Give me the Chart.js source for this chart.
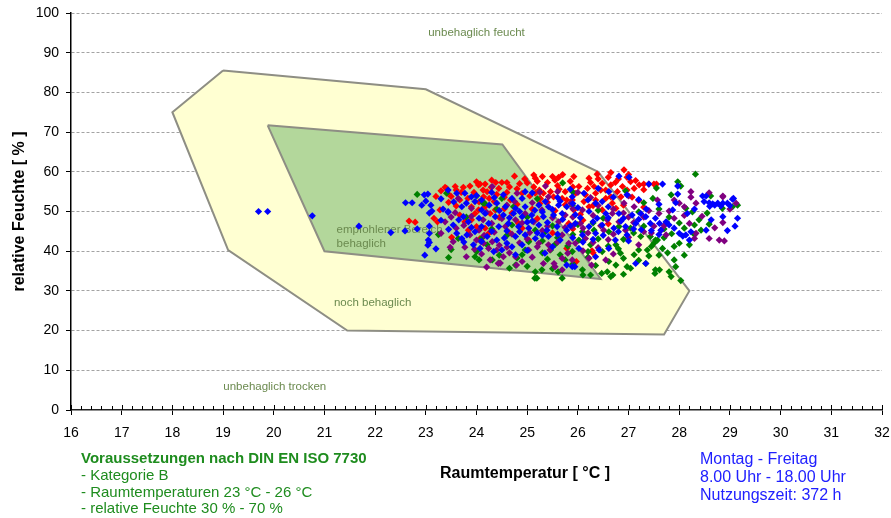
<!DOCTYPE html>
<html lang="de">
<head>
<meta charset="utf-8">
<title>Raumklima Behaglichkeit</title>
<script src="https://cdn.jsdelivr.net/npm/chart.js@4.4.1/dist/chart.umd.min.js"></script>
<style>
    html, body { margin: 0; padding: 0; background: #fff; }
    #rahmen { position: relative; width: 891px; height: 518px; }
</style>
</head>
<body>
<div id="rahmen"><canvas id="Behaglichkeit" width="891" height="518"></canvas></div>
<script>
// Achsen
var tempMin = 16, tempMax = 32, tempSchritt = 1;
var feuchteMin = 0, feuchteMax = 100, feuchteSchritt = 10;

// Behaglichkeitsfelder [Temperatur, Feuchte]
var gelbeZone = [[19.0, 85.5], [23.0, 80.8], [26.4, 60.0], [28.2, 30.0], [27.7, 19.0], [21.45, 20.0], [19.1, 40.3], [18.0, 75.0], [19.0, 85.5]];
var grueneZone = [[19.88, 71.7], [24.51, 66.9], [26.45, 33.0], [21.0, 40.0], [19.88, 71.7]];

var zonenNamen = ["unbehaglich feucht", "empfohlener Bereich", "behaglich", "noch behaglich", "unbehaglich trocken"];

// Messwerte [Raumtemperatur, relative Feuchte]
var rotPunkte = [
    [22.67, 47.6], [22.79, 47.3], [23.16, 48.3], [23.23, 47.4], [23.28, 50.4], [23.38, 56.1], [23.41, 55.8], [23.43, 54.6],
    [23.51, 43.5], [23.58, 56.3], [23.6, 55.4], [23.67, 52.9], [23.67, 49.1], [23.74, 56.1], [23.77, 47.4], [23.83, 53.3],
    [23.84, 45.3], [23.87, 56.4], [23.9, 51.2], [23.97, 49.5], [24.0, 46.2], [24.04, 56.7], [24.04, 50.4], [24.07, 43.2],
    [24.07, 56.9], [24.13, 55.4], [24.14, 53.7], [24.17, 56.9], [24.17, 51.2], [24.17, 45.8], [24.21, 55.0], [24.24, 44.5],
    [24.25, 53.3], [24.27, 49.5], [24.29, 56.1], [24.3, 57.9], [24.37, 50.4], [24.38, 57.3], [24.44, 55.8], [24.5, 57.3],
    [24.6, 57.3], [24.63, 44.9], [24.65, 56.2], [24.67, 52.9], [24.75, 58.9], [24.83, 47.0], [24.9, 54.6], [25.03, 42.8],
    [25.13, 59.2], [25.13, 56.2], [25.16, 58.4], [25.16, 54.6], [25.24, 55.4], [25.26, 53.3], [25.3, 58.8], [25.32, 54.6],
    [25.46, 55.0], [25.5, 58.8], [25.52, 53.7], [25.62, 58.6], [25.63, 55.6], [25.69, 53.3], [25.75, 55.0], [25.78, 52.9],
    [25.82, 47.0], [25.89, 52.9], [25.92, 58.8], [25.92, 50.4], [25.96, 54.6], [25.97, 37.4], [26.02, 56.3], [26.12, 52.5],
    [26.15, 54.2], [26.19, 55.8], [26.22, 58.4], [26.22, 51.2], [26.28, 40.1], [26.3, 39.6], [26.32, 56.3], [26.35, 54.6],
    [26.35, 52.9], [26.38, 59.4], [26.48, 57.1], [26.48, 50.4], [26.55, 55.4], [26.55, 53.3], [26.65, 59.8], [26.65, 56.7],
    [26.65, 53.7], [26.68, 52.1], [26.74, 57.3], [26.78, 55.0], [26.88, 56.3], [26.91, 60.5], [26.97, 58.6], [26.97, 55.4],
    [27.04, 57.5], [27.07, 53.6], [27.11, 55.8], [27.14, 57.8], [27.21, 56.7], [27.3, 56.9], [27.4, 56.9], [27.5, 56.9],
    [27.55, 56.9], [23.5, 53.8], [23.95, 54.8], [24.4, 54.3], [24.55, 53.6], [24.8, 55.7], [25.0, 57.2], [25.4, 57.3],
    [25.85, 57.6], [25.6, 56.5], [25.05, 53.9], [25.4, 52.3], [24.8, 51.8], [24.55, 50.7], [25.1, 50.6], [25.55, 50.2],
    [26.05, 49.3], [26.75, 50.8], [26.9, 51.6], [27.2, 52.8], [26.4, 58.2], [26.6, 58.6], [27.0, 59.3], [25.7, 59.3],
    [24.95, 58.2], [24.0, 57.5], [23.3, 55.2], [23.2, 53.8], [24.45, 48.5], [25.2, 48.2], [23.6, 51.4], [24.9, 45.8],
    [25.5, 44.6], [26.1, 47.8], [26.6, 46.9], [27.3, 51.1], [25.78, 40.7], [23.45, 52.3], [23.7, 54.8], [24.05, 52.4],
    [24.35, 52.5], [24.6, 54.8], [24.85, 57.0], [25.2, 57.6], [25.55, 57.9], [25.9, 56.2], [26.25, 57.3], [26.45, 55.4],
    [26.85, 53.7], [27.3, 55.5], [25.25, 52.0], [25.75, 51.7], [26.3, 51.5], [24.7, 49.6], [23.9, 47.9], [25.9, 45.6],
    [26.8, 58.2]
];

var blauPunkte = [
    [19.7, 50.0], [19.88, 50.0], [20.76, 48.9], [21.68, 46.3], [22.31, 44.7], [22.6, 52.2], [22.73, 52.2], [22.92, 51.6],
    [22.97, 54.2], [23.04, 54.4], [23.0, 52.6], [23.1, 51.6], [23.07, 49.6], [23.12, 50.1], [22.59, 45.1], [22.83, 45.6],
    [23.07, 46.3], [23.07, 44.5], [23.05, 42.8], [23.07, 42.2], [23.04, 41.5], [23.2, 40.6], [22.98, 39.0], [23.34, 50.6],
    [23.44, 49.8], [23.44, 55.4], [23.61, 54.6], [23.77, 54.6], [23.9, 53.7], [23.44, 50.0], [23.71, 51.2], [23.74, 48.7],
    [23.84, 47.4], [23.61, 44.5], [23.71, 43.2], [23.81, 44.1], [23.97, 44.9], [24.1, 46.2], [23.94, 41.6], [24.07, 40.7],
    [23.54, 46.6], [23.97, 52.5], [24.1, 50.4], [24.53, 54.2], [24.7, 53.3], [24.9, 53.3], [24.96, 55.0], [25.36, 52.5],
    [24.4, 52.1], [24.57, 51.2], [24.77, 50.8], [24.96, 51.2], [25.23, 51.6], [25.42, 51.2], [25.62, 51.6], [25.78, 51.2],
    [24.17, 49.5], [24.37, 48.7], [24.53, 49.1], [24.73, 49.5], [24.9, 48.7], [25.09, 49.1], [25.32, 48.7], [25.52, 49.1],
    [25.69, 49.5], [24.24, 47.0], [24.44, 46.2], [24.63, 47.0], [24.83, 46.2], [25.03, 45.8], [25.23, 46.6], [25.39, 45.3],
    [25.59, 46.2], [25.78, 45.3], [24.21, 43.7], [24.4, 42.8], [24.6, 42.0], [24.77, 43.7], [24.96, 44.1], [25.16, 43.2],
    [25.42, 43.7], [25.65, 42.8], [24.5, 40.3], [24.7, 41.1], [24.9, 41.6], [24.34, 39.9], [26.81, 58.9], [27.01, 58.6],
    [27.4, 56.9], [26.12, 54.6], [26.61, 55.0], [26.97, 54.2], [25.89, 53.7], [26.35, 52.1], [26.48, 52.5], [26.22, 50.0],
    [26.55, 49.5], [26.81, 49.5], [26.38, 48.3], [27.07, 49.1], [27.34, 48.7], [27.53, 48.3], [27.24, 49.5], [25.95, 47.0],
    [26.22, 46.2], [26.48, 46.6], [26.71, 45.8], [26.94, 46.2], [27.14, 47.0], [27.43, 47.0], [26.09, 44.1], [26.35, 44.5],
    [26.74, 42.8], [26.97, 44.1], [26.02, 40.7], [26.42, 40.3], [26.61, 40.7], [25.89, 36.1], [27.14, 36.9], [27.34, 36.9],
    [26.35, 38.6], [27.67, 56.9], [27.97, 56.4], [27.97, 54.4], [27.93, 52.2], [27.87, 50.4], [28.16, 49.5], [28.46, 53.9],
    [28.53, 53.9], [28.49, 52.5], [28.59, 52.2], [28.66, 51.9], [28.76, 52.1], [28.86, 52.1], [29.05, 53.1], [28.95, 52.1],
    [29.15, 48.3], [28.86, 48.7], [28.63, 47.9], [28.53, 45.3], [28.2, 42.8], [28.07, 43.8], [27.74, 47.4], [27.8, 46.6],
    [27.9, 45.8], [28.0, 44.5], [28.13, 44.1], [27.64, 45.3], [27.61, 47.0], [28.23, 44.9], [25.78, 36.5], [25.94, 36.1],
    [24.77, 39.1], [28.7, 51.6], [28.82, 51.4], [29.0, 51.5], [28.6, 51.3], [25.1, 47.6], [25.4, 47.2], [24.6, 45.1],
    [25.2, 44.6], [25.9, 43.4], [25.95, 49.2], [26.6, 51.2], [26.2, 52.9], [25.6, 53.5], [25.1, 54.7], [24.3, 54.8],
    [23.8, 52.1], [26.1, 42.3], [25.5, 41.1], [27.0, 42.6], [27.6, 44.2], [27.25, 45.4], [26.85, 47.6], [26.3, 43.0],
    [25.0, 40.2], [25.35, 39.5], [24.1, 52.9], [25.85, 55.6], [26.4, 55.8], [27.2, 53.0], [27.6, 51.8], [28.3, 50.6],
    [28.95, 45.2], [29.1, 46.3], [29.07, 53.3], [23.3, 53.2], [23.55, 52.4], [23.65, 47.9], [23.9, 46.0], [24.05, 48.3],
    [24.25, 51.6], [24.45, 50.2], [24.65, 48.4], [24.85, 50.0], [25.0, 47.3], [25.15, 50.3], [25.3, 49.9], [25.5, 50.5],
    [25.7, 48.0], [25.85, 46.4], [25.6, 44.3], [25.3, 44.0], [24.85, 44.9], [24.55, 43.3], [24.3, 45.0], [24.1, 42.5],
    [23.75, 42.3], [23.45, 45.5], [23.3, 47.8], [26.05, 48.4], [26.3, 47.4], [26.6, 48.4], [26.9, 48.3], [27.2, 48.0],
    [26.5, 44.0], [26.8, 44.9], [27.1, 45.6], [27.45, 45.2], [25.65, 52.6], [25.9, 52.0], [26.0, 51.0], [24.0, 54.0],
    [24.35, 53.5], [26.7, 53.6], [27.35, 50.6]
];

var lilaPunkte = [
    [23.64, 53.3], [23.38, 47.4], [23.58, 49.7], [23.54, 42.4], [23.48, 41.0], [23.77, 41.0], [23.87, 44.1], [24.0, 42.8],
    [23.96, 40.5], [24.13, 47.9], [24.09, 42.4], [24.31, 56.3], [24.8, 54.6], [25.36, 56.4], [25.42, 53.7], [24.14, 42.0],
    [24.24, 40.7], [24.4, 40.3], [24.77, 38.6], [24.9, 37.4], [24.47, 37.0], [24.57, 46.2], [24.77, 47.9], [24.96, 49.5],
    [25.13, 47.4], [25.29, 50.4], [25.62, 47.4], [25.75, 49.1], [25.69, 44.1], [25.42, 41.6], [25.23, 42.0], [25.82, 42.0],
    [25.55, 36.1], [25.69, 35.3], [24.31, 42.4], [25.03, 40.3], [25.86, 52.1], [26.09, 50.4], [26.68, 49.5], [26.91, 52.1],
    [25.89, 46.2], [26.05, 47.0], [26.58, 47.9], [26.81, 47.4], [27.11, 51.2], [26.51, 45.3], [27.3, 44.9], [26.15, 43.2],
    [26.22, 38.2], [25.89, 37.8], [26.55, 37.8], [25.95, 42.0], [26.94, 45.3], [28.23, 55.0], [28.23, 53.6], [28.86, 53.7],
    [29.12, 52.1], [28.33, 52.1], [28.0, 52.1], [27.9, 52.9], [28.1, 51.2], [28.86, 47.2], [28.79, 42.8], [28.89, 42.6],
    [28.59, 43.2], [28.3, 43.2], [28.33, 44.5], [28.2, 47.0], [27.9, 48.3], [27.64, 45.3], [27.74, 44.1], [27.57, 52.9],
    [24.27, 37.8], [24.43, 36.9], [24.53, 38.6], [24.79, 36.5], [25.32, 36.9], [25.53, 36.9], [25.69, 38.2], [26.27, 36.5],
    [28.59, 54.7], [28.86, 53.9], [23.9, 50.8], [24.2, 49.8], [24.5, 48.2], [24.7, 44.3], [25.0, 43.1], [25.3, 45.2],
    [25.5, 48.4], [25.9, 50.7], [26.3, 49.0], [26.7, 50.6], [27.0, 48.6], [27.4, 50.2], [27.6, 49.5], [26.2, 44.6],
    [26.6, 42.9], [27.0, 43.5], [27.5, 46.3], [24.6, 51.6], [25.1, 52.2], [25.6, 55.0], [26.0, 54.8], [26.4, 51.5],
    [24.05, 45.3], [24.85, 42.1], [25.45, 40.3], [26.4, 40.9], [27.2, 41.6], [23.3, 44.5], [23.6, 45.8], [24.35, 44.8],
    [23.5, 48.6], [23.75, 46.5], [23.9, 48.8], [24.15, 44.0], [24.3, 47.0], [24.45, 41.5], [24.65, 39.6], [24.9, 47.1],
    [25.05, 44.7], [25.2, 41.1], [25.4, 46.3], [25.6, 42.3], [25.75, 46.0], [25.9, 48.6], [26.1, 45.8], [26.3, 42.2],
    [26.45, 46.4], [26.7, 44.3], [26.9, 49.6], [27.1, 47.2], [27.3, 48.6], [27.45, 44.6], [27.7, 46.4], [27.8, 50.1],
    [28.1, 49.0], [28.45, 48.8], [28.7, 45.9], [29.0, 50.6], [24.1, 39.3], [24.6, 41.0], [25.1, 38.5], [25.8, 39.5],
    [26.1, 40.1], [26.7, 39.3], [24.75, 52.5], [25.25, 54.9], [26.25, 53.5], [27.0, 53.9], [23.8, 38.6], [24.2, 36.0]
];

var gruenPunkte = [
    [22.83, 54.3], [23.41, 54.6], [24.0, 53.9], [23.64, 43.2], [24.13, 52.1], [23.97, 38.6], [24.05, 37.8], [24.16, 52.1],
    [24.5, 53.3], [24.73, 51.2], [24.21, 41.6], [24.31, 37.8], [24.44, 37.0], [24.77, 36.5], [24.96, 40.3], [25.16, 45.3],
    [25.36, 44.9], [25.46, 40.3], [25.65, 39.1], [25.16, 34.8], [25.29, 35.3], [25.19, 33.2], [25.69, 33.2], [25.75, 37.8],
    [25.03, 42.4], [25.89, 51.6], [26.94, 55.2], [27.3, 52.2], [27.48, 53.3], [26.09, 44.9], [26.32, 45.3], [26.61, 44.9],
    [26.81, 46.2], [27.04, 45.8], [27.24, 43.7], [27.43, 43.7], [27.53, 42.8], [26.02, 42.8], [26.25, 41.6], [26.75, 41.6],
    [26.48, 39.9], [26.84, 39.5], [27.11, 39.1], [26.61, 37.4], [26.75, 36.5], [26.97, 36.1], [27.04, 35.7], [27.34, 36.9],
    [27.53, 35.3], [26.65, 33.6], [25.89, 39.9], [26.09, 35.3], [26.25, 34.0], [26.58, 34.8], [27.5, 42.0], [27.37, 40.3],
    [28.32, 59.4], [27.97, 57.5], [27.84, 54.2], [28.03, 56.4], [28.13, 50.8], [28.26, 49.9], [28.39, 47.9], [28.59, 46.8],
    [28.43, 45.3], [28.1, 45.8], [28.3, 46.6], [29.15, 51.6], [29.05, 51.2], [28.62, 53.9], [27.57, 42.8], [27.67, 40.7],
    [27.77, 39.6], [27.61, 35.3], [27.8, 34.8], [27.84, 33.6], [28.03, 32.6], [27.93, 36.1], [25.15, 33.2], [25.61, 34.8],
    [26.1, 34.0], [26.47, 34.4], [26.69, 34.0], [27.52, 34.4], [25.3, 42.6], [25.6, 43.4], [25.9, 44.2], [26.4, 43.1],
    [26.9, 43.0], [27.1, 44.6], [27.7, 43.4], [27.85, 44.4], [28.0, 42.0], [27.9, 41.2], [28.0, 47.1], [27.8, 48.6],
    [27.6, 50.6], [27.2, 49.9], [26.5, 48.3], [25.5, 46.4], [24.6, 44.0], [24.3, 45.6], [24.9, 39.1], [25.4, 38.0],
    [26.2, 38.5], [27.2, 37.7], [27.4, 38.8], [27.9, 37.8], [28.1, 39.0], [28.2, 41.6], [26.8, 40.6], [26.35, 36.4],
    [25.9, 36.8], [24.65, 35.7], [23.8, 48.6], [24.4, 50.6], [25.2, 53.2], [25.7, 57.2], [24.0, 39.9], [23.5, 40.4],
    [24.1, 43.2], [24.45, 39.0], [24.8, 38.3], [25.0, 36.2], [25.3, 39.6], [25.55, 41.7], [25.8, 41.3], [26.0, 46.7],
    [26.3, 47.1], [26.6, 41.3], [26.9, 38.2], [27.2, 40.3], [27.45, 41.2], [27.6, 39.0], [27.3, 46.3], [27.7, 45.6],
    [26.2, 39.9], [25.5, 35.6], [26.9, 34.2], [27.75, 47.3], [28.3, 44.2], [28.55, 49.6], [28.85, 50.8], [26.4, 50.3],
    [25.0, 48.6], [23.25, 44.2], [23.45, 38.4], [24.7, 46.6], [25.9, 54.9], [27.55, 55.9]
];

var schrift = "'Liberation Sans', Arial, sans-serif";
Chart.defaults.font.family = schrift;
Chart.defaults.color = '#000';

function alsPunkte(liste) {
    return liste.map(function (p) { return { x: p[0], y: p[1] }; });
}

function punktReihe(name, liste, farbe) {
    return {
        label: name,
        data: alsPunkte(liste),
        backgroundColor: farbe,
        borderColor: farbe,
        borderWidth: 0,
        pointStyle: 'rectRot',
        pointRadius: 3.6
    };
}

function zonenReihe(name, liste, fuellung) {
    return {
        type: 'line',
        label: name,
        data: alsPunkte(liste),
        borderColor: '#8e8e84',
        borderWidth: 2,
        backgroundColor: fuellung,
        fill: 'shape',
        pointRadius: 0,
        tension: 0
    };
}

// Beschriftungen, Nebenstriche und Hinweistexte
var beschriftung = {
    id: 'beschriftung',
    afterDatasetDraw: function (chart, args) {
        if (args.index !== 4) return;
        var ctx = chart.ctx, sx = chart.scales.x, sy = chart.scales.y;
        var orte = [[24.0, 95.0, 'center'], [21.24, 45.4, 'left'], [21.24, 41.8, 'left'], [21.95, 27.0, 'center'], [20.02, 5.9, 'center']];
        ctx.save();
        ctx.font = '11.5px ' + schrift;
        ctx.fillStyle = '#6b8a4f';
        ctx.textBaseline = 'middle';
        zonenNamen.forEach(function (t, i) {
            ctx.textAlign = orte[i][2];
            ctx.fillText(t, sx.getPixelForValue(orte[i][0]), sy.getPixelForValue(orte[i][1]));
        });
        ctx.restore();
    },
    afterDraw: function (chart) {
        var ctx = chart.ctx, sx = chart.scales.x, sy = chart.scales.y;
        ctx.save();
        ctx.strokeStyle = '#000';
        ctx.lineWidth = 1;
        for (var i = 0; i <= (tempMax - tempMin) * 5; i++) {
            var px = Math.round(sx.getPixelForValue(tempMin + i * 0.2)) + 0.5;
            var len = (i % 5 === 0) ? 5 : 4;
            ctx.beginPath();
            ctx.moveTo(px, sy.bottom);
            ctx.lineTo(px, sy.bottom - len);
            ctx.stroke();
        }

        ctx.textBaseline = 'alphabetic';
        ctx.textAlign = 'center';
        ctx.fillStyle = '#000';
        ctx.font = 'bold 16px ' + schrift;
        ctx.fillText('Raumtemperatur [ °C ]', 525, 478);

        ctx.textAlign = 'left';
        ctx.fillStyle = '#1e8c1e';
        ctx.font = 'bold 15px ' + schrift;
        ctx.fillText('Voraussetzungen nach DIN EN ISO 7730', 81, 463);
        ctx.font = '15px ' + schrift;
        ctx.fillText('- Kategorie B', 81, 479.5);
        ctx.fillText('- Raumtemperaturen 23 °C - 26 °C', 81, 496.5);
        ctx.fillText('- relative Feuchte 30 % - 70 %', 81, 513);

        ctx.fillStyle = '#2020ff';
        ctx.font = '16px ' + schrift;
        ctx.fillText('Montag - Freitag', 700, 464);
        ctx.fillText('8.00 Uhr - 18.00 Uhr', 700, 482);
        ctx.fillText('Nutzungszeit: 372 h', 700, 500);
        ctx.restore();
    }
};

var ctx = document.getElementById('Behaglichkeit').getContext('2d');
var diagramm = new Chart(ctx, {
    type: 'scatter',
    data: {
        datasets: [
            punktReihe('blau', blauPunkte, '#0000ff'),
            punktReihe('lila', lilaPunkte, '#800080'),
            punktReihe('gruen', gruenPunkte, '#008000'),
            punktReihe('rot', rotPunkte, '#ff0000'),
            zonenReihe('empfohlen', grueneZone, '#b3d79b'),
            zonenReihe('noch behaglich', gelbeZone, '#ffffd2')
        ]
    },
    options: {
        responsive: false,
        animation: false,
        devicePixelRatio: 1,
        layout: { padding: { top: 13, right: 9, left: 0, bottom: 0 } },
        plugins: {
            legend: { display: false },
            tooltip: { enabled: false }
        },
        scales: {
            x: {
                type: 'linear',
                min: tempMin,
                max: tempMax,
                ticks: { stepSize: tempSchritt, padding: 10, autoSkip: false, maxRotation: 0, font: { size: 14 } },
                grid: { drawOnChartArea: false, tickLength: 5, color: '#000', tickColor: '#000' },
                border: { color: '#222', width: 1.5 },
                afterFit: function (s) { s.height = 108; s.paddingLeft = 0; s.paddingRight = 0; }
            },
            y: {
                min: feuchteMin,
                max: feuchteMax,
                ticks: { stepSize: feuchteSchritt, padding: 7, font: { size: 14 } },
                grid: {
                    color: function (c) { return c.tick && c.tick.value === 0 ? 'rgba(0,0,0,0)' : '#a3a3a3'; },
                    tickColor: '#000',
                    tickLength: 5,
                    tickBorderDash: [6, 0]
                },
                border: { color: '#000', width: 1.5, dash: [3, 2] },
                title: { display: true, text: 'relative Feuchte [ % ]', font: { size: 16, weight: 'bold' }, padding: { top: 10 } },
                afterFit: function (s) { s.width = 71; s.paddingTop = 0; s.paddingBottom = 0; }
            }
        }
    },
    plugins: [beschriftung]
});
</script>
</body>
</html>
